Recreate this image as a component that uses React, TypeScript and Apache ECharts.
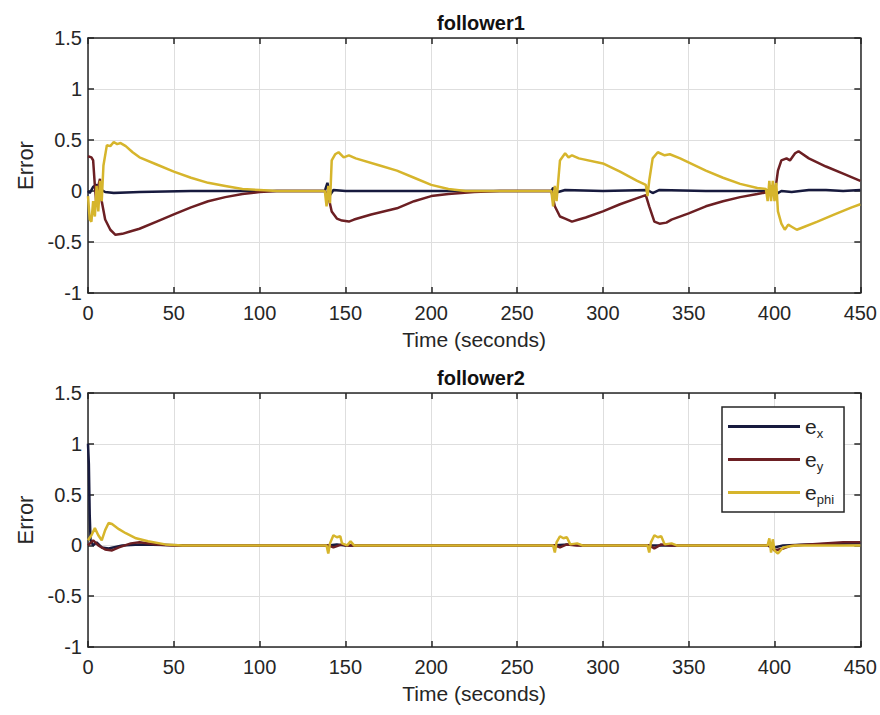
import React, { useEffect, useRef } from "react";
import * as echarts from "echarts";

const xTicks = [0, 50, 100, 150, 200, 250, 300, 350, 400, 450];
const yTicks = [-1, -0.5, 0, 0.5, 1, 1.5];
const seriesNames = ["ex", "ey", "ephi"];
const titles = ["follower1", "follower2"];

// follower1
const exTop: number[][] = [
  [0, 0], [1, -0.02], [3, 0.04], [5, 0.06], [7, 0.02], [10, -0.01], [15, -0.02], [30, -0.01], [60, 0], [100, 0],
  [138, 0], [139.5, 0.08], [141, -0.04], [143, 0.01], [150, 0], [200, 0], [270, 0], [271, 0.03], [274, -0.01],
  [278, 0.01], [300, 0], [326, 0.01], [329, -0.02], [333, 0.01], [360, 0], [396, 0], [398, 0.03], [401, -0.03],
  [404, 0], [410, -0.01], [420, 0.01], [430, 0.01], [440, 0], [450, 0.01],
];
const eyTop: number[][] = [
  [0, 0.34], [2, 0.33], [3, 0.3], [4, 0.05], [5, -0.15], [6, 0.05], [7, 0.12], [8, -0.1], [10, -0.28], [13, -0.38],
  [16, -0.43], [20, -0.42], [24, -0.4], [30, -0.37], [40, -0.3], [50, -0.23], [60, -0.16], [70, -0.1], [80, -0.06],
  [90, -0.03], [100, -0.01], [110, 0], [138, 0], [140, -0.05], [142, -0.2], [145, -0.27], [148, -0.29], [152, -0.3],
  [155, -0.28], [165, -0.23], [180, -0.17], [190, -0.1], [200, -0.05], [210, -0.03], [225, -0.01], [240, 0], [270, 0],
  [272, -0.15], [275, -0.25], [278, -0.27], [282, -0.3], [286, -0.28], [290, -0.26], [300, -0.2], [310, -0.13],
  [320, -0.07], [325, -0.04], [327, -0.15], [330, -0.3], [333, -0.32], [337, -0.31], [340, -0.28], [350, -0.22],
  [360, -0.15], [370, -0.1], [380, -0.06], [390, -0.03], [396, -0.01], [398, 0.05], [400, -0.05], [402, 0.2],
  [404, 0.3], [407, 0.32], [409, 0.3], [412, 0.37], [414, 0.39], [420, 0.32], [430, 0.24], [440, 0.17], [450, 0.1],
];
const ephiTop: number[][] = [
  [0, -0.05], [1, -0.28], [2, -0.3], [3, -0.1], [4, -0.25], [5, 0.05], [6, -0.2], [7, 0.1], [8, -0.1], [9, 0.25],
  [11, 0.45], [13, 0.44], [15, 0.48], [17, 0.46], [19, 0.47], [22, 0.44], [26, 0.38], [30, 0.33], [40, 0.26],
  [50, 0.19], [60, 0.13], [70, 0.08], [80, 0.05], [90, 0.02], [100, 0.01], [110, 0], [138, 0], [139, -0.15],
  [140, 0.05], [141, -0.12], [142, 0.3], [144, 0.36], [146, 0.38], [149, 0.33], [152, 0.35], [156, 0.32],
  [170, 0.25], [180, 0.2], [190, 0.13], [200, 0.06], [210, 0.02], [220, 0], [270, 0], [271, -0.15], [272, 0.05],
  [273, -0.1], [275, 0.3], [278, 0.37], [280, 0.33], [282, 0.35], [286, 0.32], [300, 0.27], [310, 0.19],
  [320, 0.1], [325, 0.06], [326, -0.05], [327, 0.1], [329, 0.32], [332, 0.38], [336, 0.35], [339, 0.36],
  [345, 0.32], [360, 0.2], [370, 0.13], [380, 0.07], [390, 0.03], [395, 0.02], [396, -0.1], [397, 0.1],
  [398, -0.1], [399, 0.1], [400, -0.1], [401, 0.08], [402, -0.2], [404, -0.32], [406, -0.38], [408, -0.33],
  [410, -0.35], [413, -0.38], [416, -0.36], [425, -0.3], [435, -0.23], [445, -0.16], [450, -0.13],
];

// follower2
const exBot: number[][] = [
  [0, 1.0], [0.5, 0.8], [1, 0.3], [1.5, 0.05], [3, 0], [5, 0.03], [8, -0.02], [12, -0.03], [20, 0], [30, 0.01],
  [60, 0], [140, 0], [145, 0.01], [150, 0], [270, 0], [280, 0.01], [290, 0], [395, 0], [400, -0.02], [405, 0],
  [420, 0.01], [450, 0.02],
];
const eyBot: number[][] = [
  [0, 0], [3, 0.05], [6, 0], [10, -0.04], [14, -0.05], [18, -0.02], [25, 0.02], [30, 0.03], [40, 0.01], [50, 0],
  [140, 0], [143, -0.02], [148, 0.01], [150, 0], [272, 0], [275, -0.02], [279, 0.01], [285, 0], [327, 0],
  [330, -0.03], [334, 0.01], [340, 0], [397, 0], [400, -0.05], [405, -0.03], [410, 0], [420, 0.01], [440, 0.03],
  [450, 0.03],
];
const ephiBot: number[][] = [
  [0, 0.05], [2, 0.1], [4, 0.17], [6, 0.1], [8, 0.05], [10, 0.15], [12, 0.22], [14, 0.21], [18, 0.16], [22, 0.12],
  [28, 0.07], [35, 0.04], [45, 0.01], [55, 0], [139, 0], [140, -0.08], [141, 0.02], [143, 0.1], [145, 0.08],
  [147, 0.09], [148, 0.02], [151, 0], [153, 0.04], [155, 0], [271, 0], [272, -0.07], [273, 0.03], [275, 0.09],
  [277, 0.07], [279, 0.08], [281, 0.01], [285, 0.02], [288, 0], [326, 0], [327, -0.07], [328, 0.03], [330, 0.1],
  [332, 0.08], [334, 0.09], [336, 0.01], [340, 0.02], [343, 0], [396, 0], [397, 0.07], [398, -0.07], [399, 0.06],
  [400, -0.05], [402, -0.08], [405, -0.02], [408, -0.01], [412, 0], [450, 0],
];

const colors = ["#171a3e", "#6c1f23", "#d6b52c"];
const FONT = "'Liberation Sans', Arial, Helvetica, sans-serif";

export default function App() {
  const ref = useRef<HTMLDivElement>(null);
  useEffect(() => {
    if (!ref.current) return;
    const chart = echarts.init(ref.current, undefined, { renderer: "svg" });
    const grids = [
      { left: 88, right: 16, top: 38, height: 255 },
      { left: 88, right: 16, top: 393, height: 254 },
    ];
    const xMin = xTicks[0], xMax = xTicks[xTicks.length - 1];
    const yMin = yTicks[0], yMax = yTicks[yTicks.length - 1];
    const axisLine = { show: true, onZero: false, lineStyle: { color: "#262626", width: 1.5 } };
    const axisTick = { show: true, inside: true, length: 6, lineStyle: { color: "#262626", width: 1.5 } };
    const xAxes: any[] = [];
    const yAxes: any[] = [];
    [0, 1].forEach((g) => {
      xAxes.push({
        type: "value", gridIndex: g, min: xMin, max: xMax, interval: 50, position: "bottom",
        name: "Time (seconds)", nameLocation: "middle", nameGap: 36,
        nameTextStyle: { fontSize: 21, color: "#262626", fontFamily: FONT },
        axisLine, axisTick,
        axisLabel: { fontSize: 20, color: "#262626", fontFamily: FONT, margin: 10 },
        splitLine: { show: true, lineStyle: { color: "#dedede", width: 1 } },
      });
      xAxes.push({
        type: "value", gridIndex: g, min: xMin, max: xMax, interval: 50, position: "top",
        axisLine, axisTick, axisLabel: { show: false }, splitLine: { show: false },
      });
      yAxes.push({
        type: "value", gridIndex: g, min: yMin, max: yMax, interval: 0.5, position: "left",
        name: "Error", nameLocation: "middle", nameGap: 48, nameRotate: 90,
        nameTextStyle: { fontSize: 22, color: "#262626", fontFamily: FONT },
        axisLine, axisTick,
        axisLabel: { fontSize: 20, color: "#262626", fontFamily: FONT, margin: 6 },
        splitLine: { show: true, lineStyle: { color: "#dedede", width: 1 } },
      });
      yAxes.push({
        type: "value", gridIndex: g, min: yMin, max: yMax, interval: 0.5, position: "right",
        axisLine, axisTick, axisLabel: { show: false }, splitLine: { show: false },
      });
    });
    const dataSets = [
      [exTop, eyTop, ephiTop],
      [exBot, eyBot, ephiBot],
    ];
    const series: any[] = [];
    dataSets.forEach((set, g) => {
      set.forEach((d, i) => {
        series.push({
          type: "line", name: seriesNames[i], data: d, xAxisIndex: g * 2, yAxisIndex: g * 2,
          showSymbol: false, symbol: "none", z: i === 2 ? 3 : 2,
          lineStyle: { color: colors[i], width: 2.5 }, itemStyle: { color: colors[i] },
        });
      });
    });
    chart.setOption({
      animation: false,
      backgroundColor: "#ffffff",
      title: titles.map((t, i) => ({
        text: t, left: 476, top: i === 0 ? 8 : 363, textAlign: "center",
        textStyle: { fontSize: 20, fontWeight: "bold", color: "#111", fontFamily: FONT },
      })),
      grid: grids,
      xAxis: xAxes,
      yAxis: yAxes,
      legend: {
        show: true, orient: "vertical", left: 722, top: 407,
        data: seriesNames.map((n) => ({ name: n, icon: "rect" })),
        borderColor: "#262626", borderWidth: 1.5, backgroundColor: "#ffffff",
        padding: [9, 10, 6, 6], itemWidth: 72, itemHeight: 3, itemGap: 9,
        formatter: (n: string) => "e{s|" + n.slice(1) + "}",
        textStyle: {
          fontSize: 21, color: "#262626", fontFamily: FONT,
          rich: { s: { fontSize: 13, color: "#262626", fontFamily: FONT, padding: [14, 0, 0, 0] } },
        },
      },
      series,
    });
    return () => chart.dispose();
  }, []);
  return <div ref={ref} style={{ position: "fixed", left: 0, top: 0, width: 880, height: 715 }} />;
}
